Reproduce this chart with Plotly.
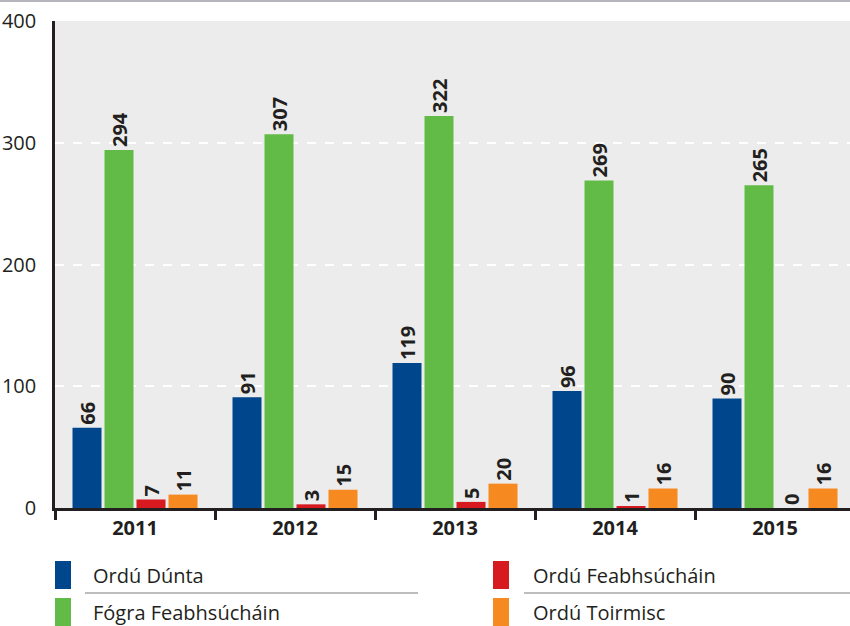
import plotly.graph_objects as go

years = ["2011", "2012", "2013", "2014", "2015"]
series_names = ["Ordú Dúnta", "Fógra Feabhsúcháin", "Ordú Feabhsúcháin", "Ordú Toirmisc"]
ordu_dunta = [66, 91, 119, 96, 90]
fogra_feabhsuchain = [294, 307, 322, 269, 265]
ordu_feabhsuchain = [7, 3, 5, 1, 0]
ordu_toirmisc = [11, 15, 20, 16, 16]
y_ticks = [0, 100, 200, 300, 400]

colors = ["#00468c", "#62bb46", "#d71920", "#f6891f"]
values = [ordu_dunta, fogra_feabhsuchain, ordu_feabhsuchain, ordu_toirmisc]

FONT = "Open Sans"
TXT = "#231f20"

W, H = 850, 626
L, R, T, B = 55, 0, 21, 118
PW = W - L - R
PH = H - T - B


def px(x):
    return (x - L) / PW


def py(y):
    return (H - B - y) / PH


fig = go.Figure()
for name, vals, col in zip(series_names, values, colors):
    fig.add_trace(go.Bar(
        x=years, y=vals, name=name, marker_color=col, marker_line_width=0,
        text=[str(v) for v in vals], textposition="outside", textangle=-90,
        textfont=dict(family=FONT, size=20, color=TXT, weight="bold"),
        constraintext="none", cliponaxis=False, showlegend=False,
        hoverinfo="skip",
    ))

shapes = []
annotations = []
# top grey rule
shapes.append(dict(type="line", xref="paper", yref="paper", x0=px(0), x1=px(W),
                   y0=py(1), y1=py(1), line=dict(color="#b4b4bc", width=2)))

# custom legend
legend_items = [
    (0, 55, 91, 561, 85, 418),
    (1, 55, 91, 598, None, None),
    (2, 493, 531, 561, 524, 850),
    (3, 493, 531, 598, None, None),
]
for idx, sx, tx, sy, lx0, lx1 in legend_items:
    shapes.append(dict(type="rect", xref="paper", yref="paper",
                       x0=px(sx), x1=px(sx + 16), y0=py(sy), y1=py(sy + 28),
                       fillcolor=colors[idx], line=dict(width=0)))
    annotations.append(dict(xref="paper", yref="paper", x=px(tx), y=py(sy + 14),
                            text=series_names[idx], showarrow=False,
                            xanchor="left", yanchor="middle",
                            font=dict(family=FONT, size=20, color=TXT)))
    if lx0 is not None:
        shapes.append(dict(type="line", xref="paper", yref="paper",
                           x0=px(lx0), x1=px(lx1), y0=py(593), y1=py(593),
                           line=dict(color="#a7a7a7", width=1.5)))

fig.update_layout(
    width=W, height=H,
    margin=dict(l=L, r=R, t=T, b=B, pad=0),
    paper_bgcolor="white", plot_bgcolor="#ececec",
    barmode="group", bargap=0.2, bargroupgap=0.094,
    font=dict(family=FONT, color=TXT),
    shapes=shapes, annotations=annotations,
    showlegend=False,
)
fig.update_xaxes(
    range=[-0.5, -0.5 + PW / 160.0],
    showline=True, linecolor=TXT, linewidth=2.5,
    ticks="outside", tickson="boundaries", ticklen=9, tickwidth=2.5, tickcolor=TXT,
    tickfont=dict(family=FONT, size=20, color=TXT, weight="bold"),
    showgrid=False, zeroline=False,
)
fig.update_yaxes(
    range=[0, 400], tickvals=y_ticks, ticktext=[str(v) for v in y_ticks],
    showline=True, linecolor=TXT, linewidth=2.5, ticks="", ticklabelstandoff=12,
    tickfont=dict(family=FONT, size=20, color=TXT),
    showgrid=True, gridcolor="white", gridwidth=1.5, griddash="dash",
    zeroline=False,
)

fig.write_html(
    "out.html",
    config={"displayModeBar": False},
    post_script="document.body.style.margin='0';document.body.style.padding='0';",
)
